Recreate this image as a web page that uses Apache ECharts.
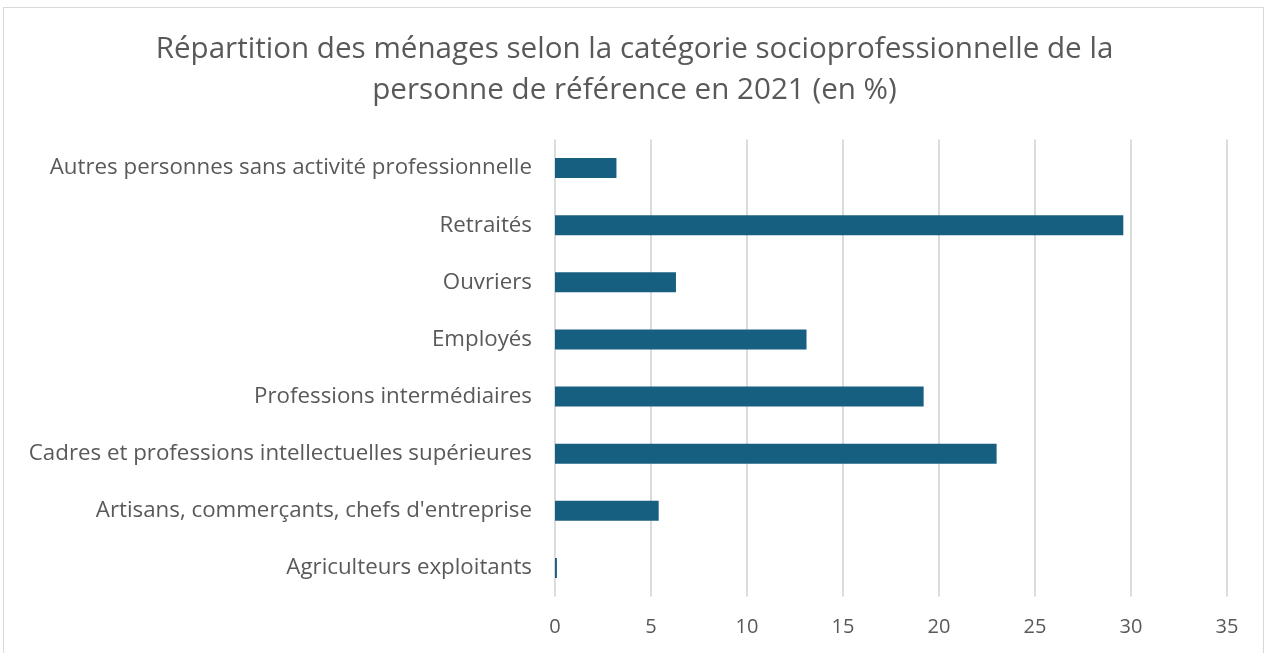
<!DOCTYPE html>
<html><head><meta charset="utf-8">
<script src="https://cdn.jsdelivr.net/npm/echarts@6/dist/echarts.min.js"></script>
<style>
html,body{margin:0;padding:0;background:#fff;}
#frame{position:absolute;left:3px;top:7px;width:1261px;height:660px;border:1px solid #d9d9d9;box-sizing:border-box;}
#c{position:absolute;left:0;top:0;width:1269px;height:653px;}
</style></head>
<body>
<div id="frame"></div>
<div id="c"></div>
<script>
const categories = [
  "Agriculteurs exploitants",
  "Artisans, commerçants, chefs d'entreprise",
  "Cadres et professions intellectuelles supérieures",
  "Professions intermédiaires",
  "Employés",
  "Ouvriers",
  "Retraités",
  "Autres personnes sans activité professionnelle"
];
const values = [0.1, 5.4, 23.0, 19.2, 13.1, 6.3, 29.6, 3.2];
const titleText = "Répartition des ménages selon la catégorie socioprofessionnelle de la\npersonne de référence en 2021 (en %)";

const chart = echarts.init(document.getElementById('c'), null, {renderer:'canvas'});
chart.setOption({
  backgroundColor: 'transparent',
  animation: false,
  title: {
    text: titleText,
    left: 'center',
    top: 24,
    textStyle: {fontFamily: 'Open Sans', fontSize: 29.6, fontWeight: 'normal', color: '#595959', lineHeight: 41}
  },
  grid: {left: 555, right: 42, top: 139.5, bottom: 56.5, containLabel: false},
  xAxis: {
    type: 'value', min: 0, max: 35, interval: 5,
    axisLine: {show: false}, axisTick: {show: false},
    axisLabel: {fontFamily: 'Open Sans', fontSize: 20, color: '#595959', margin: 21},
    splitLine: {show: true, lineStyle: {color: '#dcdcdc', width: 2}}
  },
  yAxis: {
    type: 'category', data: categories,
    axisLine: {show: false}, axisTick: {show: false},
    axisLabel: {fontFamily: 'Open Sans', fontSize: 22.3, color: '#595959', margin: 23}
  },
  series: [{
    type: 'bar', data: values, barWidth: 20,
    itemStyle: {color: '#175f80'}
  }]
});
</script>
</body></html>
